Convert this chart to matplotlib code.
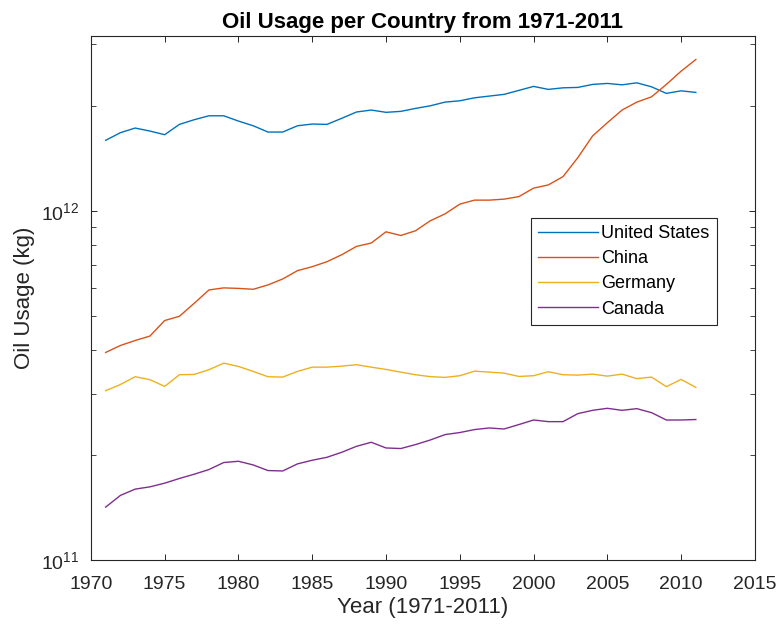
import numpy as np
import matplotlib
matplotlib.use("Agg")
import matplotlib.pyplot as plt

years = np.arange(1971, 2012)

usa = [1.591e12, 1.673e12, 1.725e12, 1.691e12, 1.651e12, 1.767e12, 1.822e12, 1.870e12,
       1.870e12, 1.806e12, 1.751e12, 1.680e12, 1.680e12, 1.751e12, 1.771e12, 1.767e12,
       1.839e12, 1.917e12, 1.942e12, 1.913e12, 1.925e12, 1.963e12, 1.997e12, 2.046e12,
       2.064e12, 2.105e12, 2.129e12, 2.153e12, 2.210e12, 2.269e12, 2.225e12, 2.248e12,
       2.254e12, 2.299e12, 2.314e12, 2.293e12, 2.323e12, 2.263e12, 2.167e12, 2.204e12,
       2.181e12]

china = [3.935e11, 4.120e11, 4.257e11, 4.384e11, 4.856e11, 4.994e11, 5.439e11, 5.939e11,
         6.020e11, 6.000e11, 5.965e11, 6.138e11, 6.385e11, 6.743e11, 6.922e11, 7.154e11,
         7.490e11, 7.911e11, 8.090e11, 8.710e11, 8.502e11, 8.768e11, 9.365e11, 9.800e11,
         1.045e12, 1.073e12, 1.073e12, 1.080e12, 1.098e12, 1.161e12, 1.186e12, 1.253e12,
         1.419e12, 1.637e12, 1.786e12, 1.942e12, 2.046e12, 2.119e12, 2.299e12, 2.508e12,
         2.709e12]

germany = [3.059e11, 3.186e11, 3.354e11, 3.289e11, 3.147e11, 3.398e11, 3.405e11, 3.512e11,
           3.667e11, 3.589e11, 3.473e11, 3.354e11, 3.346e11, 3.473e11, 3.572e11, 3.572e11,
           3.596e11, 3.630e11, 3.572e11, 3.519e11, 3.457e11, 3.398e11, 3.356e11, 3.339e11,
           3.376e11, 3.479e11, 3.457e11, 3.434e11, 3.360e11, 3.376e11, 3.466e11, 3.398e11,
           3.389e11, 3.412e11, 3.367e11, 3.412e11, 3.311e11, 3.346e11, 3.141e11, 3.295e11,
           3.126e11]

canada = [1.421e11, 1.535e11, 1.600e11, 1.624e11, 1.664e11, 1.716e11, 1.765e11, 1.820e11,
          1.906e11, 1.922e11, 1.876e11, 1.808e11, 1.803e11, 1.889e11, 1.935e11, 1.973e11,
          2.039e11, 2.121e11, 2.178e11, 2.098e11, 2.090e11, 2.145e11, 2.211e11, 2.291e11,
          2.322e11, 2.368e11, 2.393e11, 2.377e11, 2.447e11, 2.522e11, 2.495e11, 2.495e11,
          2.630e11, 2.688e11, 2.724e11, 2.688e11, 2.718e11, 2.647e11, 2.522e11, 2.522e11,
          2.530e11]

names = ["United States", "China", "Germany", "Canada"]
colors = ["#0072BD", "#D95319", "#EDB120", "#7E2F8E"]

plt.rcParams["font.family"] = ["Liberation Sans", "DejaVu Sans"]
plt.rcParams["mathtext.fontset"] = "custom"
plt.rcParams["mathtext.rm"] = "Liberation Sans"
plt.rcParams["mathtext.default"] = "regular"

fig = plt.figure(figsize=(7.77, 6.24), dpi=100)
ax = fig.add_axes([0.117, 0.1018, 0.8545, 0.8405])

for series, name, c in zip([usa, china, germany, canada], names, colors):
    ax.plot(years, series, color=c, lw=1.0, label=name)

ax.set_yscale("log")
ax.set_xlim(1970, 2015)
ax.set_ylim(1e11, 10 ** 12.5)
ax.set_xticks(np.arange(1970, 2016, 5))

grey = "#262626"
for s in ax.spines.values():
    s.set_color(grey)
    s.set_linewidth(0.8)
ax.tick_params(which="both", direction="in", top=True, right=True,
               colors=grey, labelcolor=grey, labelsize=14)
ax.tick_params(which="major", length=4.5, width=0.7)
ax.tick_params(which="minor", length=3.5, width=0.6)
ax.tick_params(axis="x", pad=11)
ax.tick_params(axis="y", pad=8)

ax.set_title("Oil Usage per Country from 1971-2011", fontsize=16, fontweight="bold", pad=6)
ax.set_xlabel("Year (1971-2011)", fontsize=16, color=grey, labelpad=3)
ax.set_ylabel("Oil Usage (kg)", fontsize=16, color=grey, labelpad=5)

leg = ax.legend(loc="upper left", bbox_to_anchor=(0.6627, 0.653), fontsize=13,
                handlelength=3.3, handletextpad=0.2, labelspacing=0.45,
                borderpad=0.4, fancybox=False, framealpha=1, borderaxespad=0)
leg.get_frame().set_edgecolor(grey)
leg.get_frame().set_linewidth(0.8)

fig.savefig("out.png", dpi=100)
